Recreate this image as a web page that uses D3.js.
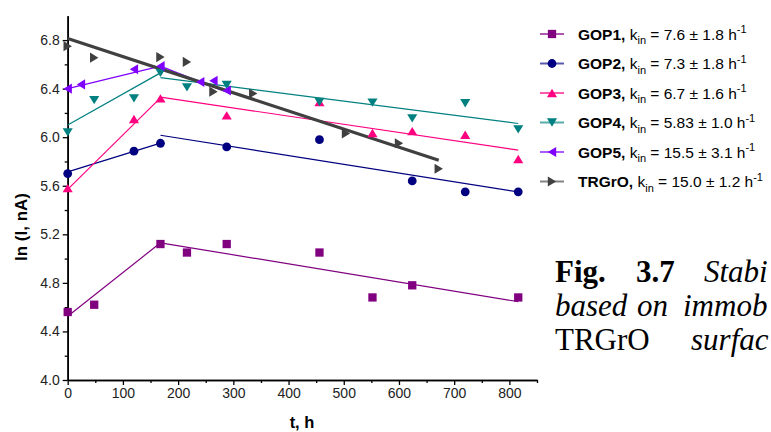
<!DOCTYPE html>
<html>
<head>
<meta charset="utf-8">
<script src="https://cdn.jsdelivr.net/npm/d3@7/dist/d3.min.js"></script>
<style>
  html, body { margin: 0; padding: 0; background: #fff; overflow: hidden; }
  svg { display: block; }
</style>
</head>
<body>
<svg id="chart" width="771" height="432"></svg>
<script>
// Measured points: time (h) and ln(I, nA)
const gop1T = [0, 48, 168, 216, 288, 456, 552, 624, 816];
const gop1V = [4.56, 4.62, 5.12, 5.05, 5.12, 5.05, 4.68, 4.78, 4.68];
const gop2T = [0, 120, 168, 288, 456, 624, 720, 816];
const gop2V = [5.70, 5.885, 5.95, 5.92, 5.98, 5.64, 5.55, 5.55];
const gop3T = [0, 120, 168, 288, 456, 552, 624, 720, 816];
const gop3V = [5.58, 6.15, 6.32, 6.18, 6.29, 6.035, 6.05, 6.02, 5.82];
const gop4T = [0, 48, 120, 168, 216, 288, 456, 552, 624, 720, 816];
const gop4V = [6.04, 6.305, 6.32, 6.53, 6.41, 6.43, 6.29, 6.285, 6.155, 6.28, 6.065];
const gop5T = [0, 24, 120, 168, 240, 264, 288];
const gop5V = [6.40, 6.435, 6.56, 6.585, 6.455, 6.465, 6.385];
const trgoT = [0, 48, 168, 216, 264, 336, 504, 600, 672];
const trgoV = [6.75, 6.655, 6.66, 6.62, 6.375, 6.36, 6.03, 5.95, 5.74];

// Linear fits: each segment is [t0, t1] with [v0, v1]
const gop1FitT = [[0, 168], [168, 816]];
const gop1FitV = [[4.525, 5.13], [5.13, 4.645]];
const gop2FitT = [[0, 168], [168, 816]];
const gop2FitV = [[5.714, 5.951], [6.016, 5.549]];
const gop3FitT = [[0, 168], [168, 816]];
const gop3FitV = [[5.57, 6.324], [6.33, 5.893]];
const gop4FitT = [[0, 168], [168, 816]];
const gop4FitV = [[6.10, 6.53], [6.49, 6.113]];
const gop5FitT = [[0, 168], [168, 288]];
const gop5FitV = [[6.40, 6.585], [6.585, 6.37]];
const trgoFitT = [[0, 672]];
const trgoFitV = [[6.813, 5.81]];

const seriesNames = ["GOP1", "GOP2", "GOP3", "GOP4", "GOP5", "TRGrO"];
const kinValues = ["7.6 ± 1.8", "7.3 ± 1.8", "6.7 ± 1.6", "5.83 ± 1.0", "15.5 ± 3.1", "15.0 ± 1.2"];
const colors = ["#800080", "#000080", "#ff0080", "#008080", "#8000ff", "#404040"];
const shapes = ["square", "circle", "up", "down", "left", "right"];

const xTicks = [0, 100, 200, 300, 400, 500, 600, 700, 800];
const yTicks = [4.0, 4.4, 4.8, 5.2, 5.6, 6.0, 6.4, 6.8];
const xLabel = "t, h";
const yLabel = "ln (I, nA)";
const captionLines = [["Fig.", "3.7", "Stabi"], ["based", "on", "immob"], ["TRGrO", "surfac"]];

const series = [
  { t: gop1T, v: gop1V, fitT: gop1FitT, fitV: gop1FitV },
  { t: gop2T, v: gop2V, fitT: gop2FitT, fitV: gop2FitV },
  { t: gop3T, v: gop3V, fitT: gop3FitT, fitV: gop3FitV },
  { t: gop4T, v: gop4V, fitT: gop4FitT, fitV: gop4FitV },
  { t: gop5T, v: gop5V, fitT: gop5FitT, fitV: gop5FitV },
  { t: trgoT, v: trgoV, fitT: trgoFitT, fitV: trgoFitV }
].map((s, i) => Object.assign(s, { name: seriesNames[i], kin: kinValues[i], color: colors[i], shape: shapes[i] }));

const svg = d3.select("#chart");
const x = d3.scaleLinear().domain([0, 850]).range([67.7, 537]);
const y = d3.scaleLinear().domain([4.0, 7.0]).range([380, 15.8]);

function markerPath(shape, r) {
  if (shape === "square") return d3.symbol(d3.symbolSquare, (2 * r - 0.5) ** 2)();
  if (shape === "circle") return d3.symbol(d3.symbolCircle, Math.PI * r * r)();
  const a = r * 1.15, b = r * 0.95;
  if (shape === "up") return `M0,${-b}L${a},${b}L${-a},${b}Z`;
  if (shape === "down") return `M0,${b}L${a},${-b}L${-a},${-b}Z`;
  if (shape === "left") return `M${-b},0L${b},${-a}L${b},${a}Z`;
  return `M${b},0L${-b},${-a}L${-b},${a}Z`;
}

// Axes
const axisFont = "Liberation Sans, Arial, sans-serif";
const xAxis = svg.append("g").attr("transform", `translate(0,${y.range()[0]})`)
  .call(d3.axisBottom(x).tickValues(xTicks).tickFormat(d3.format("d")).tickSize(5).tickSizeOuter(0).tickPadding(3));
const xMinor = svg.append("g").attr("transform", `translate(0,${y.range()[0]})`)
  .call(d3.axisBottom(x).tickValues(d3.range(50, 851, 100)).tickFormat("").tickSize(3).tickSizeOuter(0));
const yAxis = svg.append("g").attr("transform", `translate(${x.range()[0]},0)`)
  .call(d3.axisLeft(y).tickValues(yTicks).tickFormat(d3.format(".1f")).tickSize(5).tickSizeOuter(0).tickPadding(3));
const yMinor = svg.append("g").attr("transform", `translate(${x.range()[0]},0)`)
  .call(d3.axisLeft(y).tickValues(d3.range(4.2, 7.0, 0.4)).tickFormat("").tickSize(3).tickSizeOuter(0));

[xAxis, xMinor, yAxis, yMinor].forEach(g => {
  g.selectAll("path.domain").attr("stroke", "#000").attr("stroke-width", 1.6);
  g.selectAll(".tick line").attr("stroke", "#000").attr("stroke-width", 1.3);
  g.selectAll("text").attr("font-family", axisFont).attr("font-size", 14).attr("fill", "#222");
});

svg.append("text").attr("x", 302).attr("y", 428).attr("text-anchor", "middle")
  .attr("font-family", axisFont).attr("font-weight", "bold").attr("font-size", 16.5).text(xLabel);
svg.append("text").attr("transform", "translate(27,227) rotate(-90)").attr("text-anchor", "middle")
  .attr("font-family", axisFont).attr("font-weight", "bold").attr("font-size", 17).text(yLabel);

// Fit lines
const line = d3.line().x(d => x(d[0])).y(d => y(d[1]));
const fitLayer = svg.append("g");
series.forEach(s => {
  s.fitT.forEach((seg, k) => {
    fitLayer.append("path")
      .attr("d", line([[seg[0], s.fitV[k][0]], [seg[1], s.fitV[k][1]]]))
      .attr("fill", "none").attr("stroke", s.color)
      .attr("stroke-width", s.name === "TRGrO" ? 3.2 : 1.2);
  });
});

// Points
const pointLayer = svg.append("g");
series.forEach(s => {
  pointLayer.selectAll(null).data(s.t.map((t, i) => [t, s.v[i]])).enter()
    .append("path")
    .attr("transform", d => `translate(${x(d[0])},${y(d[1])})`)
    .attr("d", markerPath(s.shape, 4.4))
    .attr("fill", s.color);
});

// Legend
const legend = svg.append("g");
series.forEach((s, i) => {
  const cy = 34 + i * 29.5;
  legend.append("line").attr("x1", 540).attr("x2", 564).attr("y1", cy).attr("y2", cy)
    .attr("stroke", s.color).attr("stroke-width", 2).attr("stroke-opacity", 0.65);
  legend.append("path").attr("transform", `translate(552,${cy})`).attr("d", markerPath(s.shape, 4.4)).attr("fill", s.color);
  const txt = legend.append("text").attr("x", 578).attr("y", cy + 5.5)
    .attr("font-family", axisFont).attr("font-size", 15.5).attr("fill", "#000");
  txt.append("tspan").attr("font-weight", "bold").text(s.name + ",");
  txt.append("tspan").text(" k");
  txt.append("tspan").attr("font-size", 11).attr("dy", 4.5).text("in");
  txt.append("tspan").attr("dy", -4.5).text(" = " + s.kin + " h");
  txt.append("tspan").attr("font-size", 11).attr("dy", -6.5).text("-1");
});

// Caption text at the right, justified word positions
const cap = svg.append("g").attr("font-family", "Liberation Serif, Times New Roman, serif").attr("font-size", 31);
const l1 = cap.append("text").attr("y", 282);
l1.append("tspan").attr("x", 555).attr("font-weight", "bold").text(captionLines[0][0]);
l1.append("tspan").attr("x", 636).attr("font-weight", "bold").text(captionLines[0][1]);
l1.append("tspan").attr("x", 704).attr("font-style", "italic").text(captionLines[0][2]);
const l2 = cap.append("text").attr("y", 316).attr("font-style", "italic");
l2.append("tspan").attr("x", 555).text(captionLines[1][0]);
l2.append("tspan").attr("x", 637).text(captionLines[1][1]);
l2.append("tspan").attr("x", 683).text(captionLines[1][2]);
const l3 = cap.append("text").attr("y", 350);
l3.append("tspan").attr("x", 555).text(captionLines[2][0]);
l3.append("tspan").attr("x", 691).attr("font-style", "italic").text(captionLines[2][1]);
</script>
</body>
</html>
